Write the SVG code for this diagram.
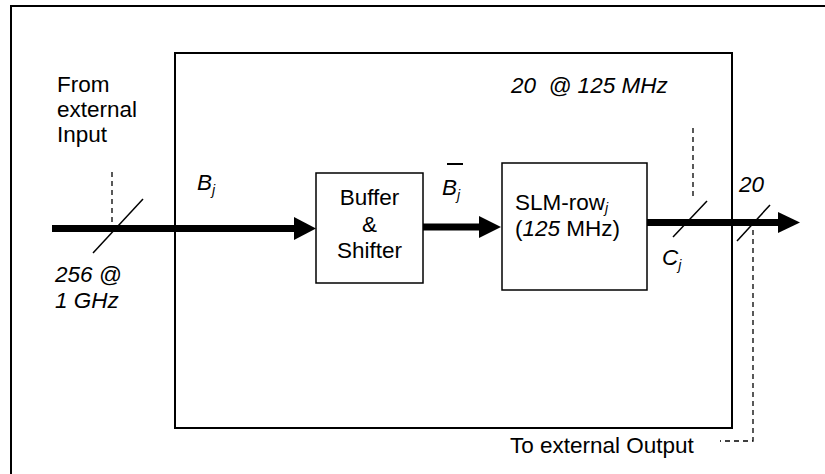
<svg xmlns="http://www.w3.org/2000/svg" width="825" height="474" viewBox="0 0 825 474">
<style>
text{font-family:"Liberation Sans",Arial,sans-serif;font-size:22.5px;fill:#000}
.i{font-style:italic}
.sub{font-style:italic;font-size:14px}
.box{fill:#fff;stroke:#000;stroke-width:1.5}
.frame{fill:none;stroke:#000;stroke-width:2}
.bus{stroke:#000;stroke-width:7;fill:none}
.sl{stroke:#000;stroke-width:1.5;fill:none}
.dash{stroke:#000;stroke-width:1.3;stroke-dasharray:5,4;fill:none}
</style>
<rect width="825" height="474" fill="#fff"/>
<rect id="outer" class="frame" x="11" y="6" width="830" height="480"/>
<rect id="module" class="frame" x="175" y="53" width="557" height="375"/>
<g id="connectors">
<line class="bus" x1="52" y1="228.5" x2="296" y2="228.5"/>
<polygon points="294,217 316,228.5 294,240"/>
<line class="bus" x1="423" y1="227" x2="481" y2="227"/>
<polygon points="479,216 501,227 479,238"/>
<line class="bus" x1="647" y1="222.5" x2="780" y2="222.5"/>
<polygon points="778,212 800,222.5 778,233"/>
<line class="sl" x1="93" y1="253" x2="143" y2="199"/>
<line class="dash" x1="112" y1="172" x2="112" y2="228"/>
<line class="sl" x1="673" y1="237" x2="707" y2="201"/>
<line class="dash" x1="693" y1="128" x2="693" y2="200"/>
<line class="sl" x1="737" y1="241" x2="770" y2="205"/>
<polyline class="dash" points="753,230 753,441 720,441"/>
</g>
<g id="buffer">
<rect class="box" x="316" y="173" width="107" height="110"/>
<text x="369.5" y="205" text-anchor="middle">Buffer</text>
<text x="369.5" y="232" text-anchor="middle">&amp;</text>
<text x="369.5" y="258" text-anchor="middle">Shifter</text>
</g>
<g id="slm">
<rect class="box" x="502" y="163" width="145" height="127"/>
<text x="515" y="210">SLM-row<tspan class="sub" dy="3">j</tspan></text>
<text x="515" y="236">(<tspan class="i">125</tspan> MHz)</text>
</g>
<g id="labels">
<text x="57" y="92">From</text>
<text x="57" y="117">external</text>
<text x="57" y="142">Input</text>
<text class="i" x="55" y="282">256 @</text>
<text class="i" x="55" y="308">1 GHz</text>
<text class="i" x="197" y="190">B<tspan class="sub" dy="5">j</tspan></text>
<text class="i" x="442" y="195">B<tspan class="sub" dy="5">j</tspan></text>
<line x1="447" y1="164" x2="463" y2="164" stroke="#000" stroke-width="2"/>
<text class="i" x="511" y="93" xml:space="preserve">20  @ 125 MHz</text>
<text class="i" x="662" y="265">C<tspan class="sub" dy="5">j</tspan></text>
<text class="i" x="739" y="192">20</text>
<text x="510" y="453">To external Output</text>
</g>
</svg>
